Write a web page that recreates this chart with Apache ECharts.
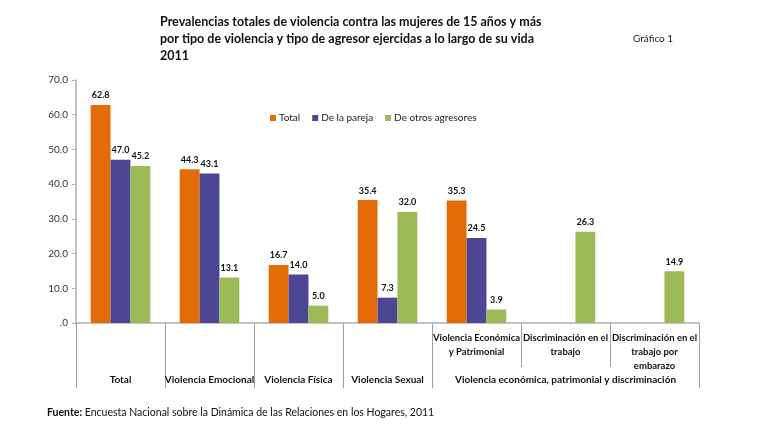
<!DOCTYPE html>
<html><head><meta charset="utf-8">
<script src="https://cdn.jsdelivr.net/npm/echarts@6/dist/echarts.min.js"></script>
<style>html,body{margin:0;padding:0;background:#fff}#c{width:777px;height:427px}</style>
</head><body><div id="c"></div>
<script>
var categories = ['Total','Violencia Emocional','Violencia Física','Violencia Sexual','Violencia Económica y Patrimonial','Discriminación en el trabajo','Discriminación en el trabajo por embarazo'];
var subLabels = ['','','','','Violencia Económica\ny Patrimonial','Discriminación en el\ntrabajo','Discriminación en el\ntrabajo por\nembarazo'];
var groups = ['Total','Violencia Emocional','Violencia Física','Violencia Sexual','Violencia económica, patrimonial y discriminación'];
var groupSpans = [1,1,1,1,3];
var seriesNames = ['Total','De la pareja','De otros agresores'];
var totalVals = [62.8,44.3,16.7,35.4,35.3,null,null];
var parejaVals = [47.0,43.1,14.0,7.3,24.5,null,null];
var otrosVals = [45.2,13.1,5.0,32.0,3.9,26.3,14.9];
var yTicks = [0,10,20,30,40,50,60,70];

// group boundaries and centers (in category units)
var bounds = [0], centers = [], acc = 0;
groupSpans.forEach(function(s){ centers.push(acc + s/2); acc += s; bounds.push(acc); });

var FONT = 'Lato';
var chart = echarts.init(document.getElementById('c'));
var labelCfg = {show:true, position:'top', distance:5, fontSize:9, fontWeight:'bold', color:'#111', fontFamily:FONT,
  formatter:function(p){return p.value==null?'':p.value.toFixed(1);}};
chart.setOption({
  animation:false,
  title:[
    {text:'Prevalencias totales de violencia contra las mujeres de 15 años y más\npor tipo de violencia y tipo de agresor ejercidas a lo largo de su vida\n2011',
     left:160, top:13, padding:0, textStyle:{fontSize:12.5, fontWeight:'bold', color:'#111', fontFamily:FONT, lineHeight:17}},
    {text:'Gráfico 1', left:633, top:34, padding:0, textStyle:{fontSize:10, fontWeight:'normal', color:'#222', fontFamily:FONT}},
    {text:'{b|Fuente:} Encuesta Nacional sobre la Dinámica de las Relaciones en los Hogares, 2011', left:47, top:407, padding:0,
     textStyle:{fontSize:10.5, fontWeight:'normal', color:'#111', fontFamily:FONT,
       rich:{b:{fontWeight:'bold', fontSize:10.5, color:'#111', fontFamily:FONT}}}}
  ],
  legend:{data:seriesNames, left:265, top:108, itemWidth:6, itemHeight:6, itemGap:12, icon:'rect',
    textStyle:{fontSize:10, color:'#222', fontFamily:FONT, padding:[0,0,0,-2]}},
  grid:{left:76, right:78, top:80, bottom:104},
  xAxis:[
    {type:'category', data:categories, position:'bottom',
     axisLine:{show:true, lineStyle:{color:'#b0b0b0', width:1.5}},
     axisTick:{show:true, length:44, interval:0, lineStyle:{color:'#a0a0a0'}},
     axisLabel:{interval:0, margin:8, fontSize:9.5, fontWeight:'bold', color:'#111', fontFamily:FONT,
       lineHeight:14,
       formatter:function(v, i){ return subLabels[i]; }}},
    {type:'value', min:0, max:categories.length, position:'bottom', show:true,
     axisLine:{show:false},
     splitLine:{show:false},
     axisTick:{show:true, length:65, customValues:bounds, lineStyle:{color:'#a0a0a0'}},
     axisLabel:{show:true, margin:52, fontSize:10, fontWeight:'bold', color:'#111', fontFamily:FONT,
       customValues:centers,
       formatter:function(v){ var k = centers.indexOf(v); return k>=0 ? groups[k] : ''; }}}
  ],
  yAxis:{type:'value', min:0, max:70, interval:10,
    axisLine:{show:true, lineStyle:{color:'#b0b0b0', width:1.5}},
    axisTick:{show:true, length:4, lineStyle:{color:'#b0b0b0'}},
    splitLine:{show:false},
    axisLabel:{fontSize:10, color:'#333', fontFamily:FONT, margin:8,
      formatter:function(v){ return v===0 ? '.0' : v.toFixed(1); }}},
  series:[
    {name:seriesNames[0], type:'bar', data:totalVals, barGap:'0%', barCategoryGap:'33%', itemStyle:{color:'#E36C09'}, label:labelCfg},
    {name:seriesNames[1], type:'bar', data:parejaVals, barGap:'0%', barCategoryGap:'33%', itemStyle:{color:'#4D4694'}, label:labelCfg},
    {name:seriesNames[2], type:'bar', data:otrosVals, barGap:'0%', barCategoryGap:'33%', itemStyle:{color:'#9BBB59'}, label:labelCfg}
  ]
});
</script></body></html>
